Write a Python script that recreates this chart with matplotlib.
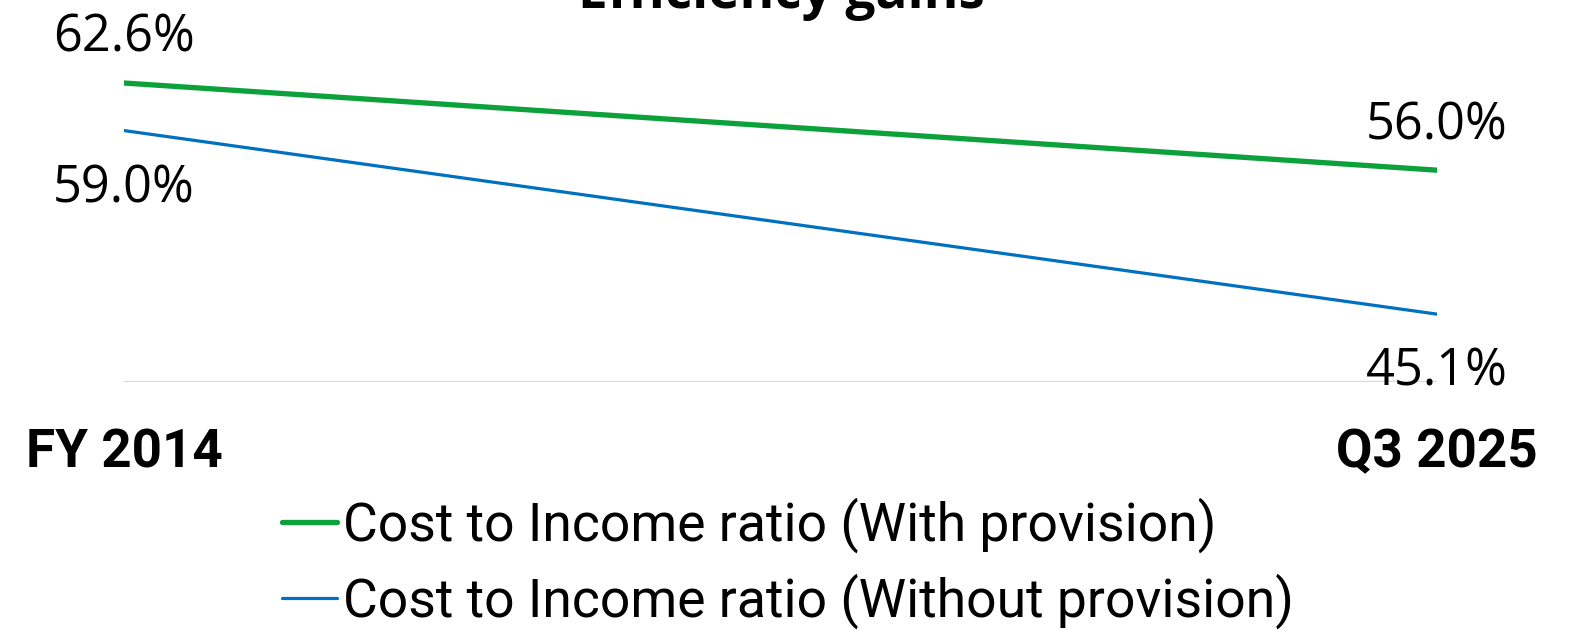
import matplotlib
matplotlib.use("Agg")
import matplotlib.pyplot as plt
import matplotlib.transforms as mtransforms

categories = ["FY 2014", "Q3 2025"]
with_provision = [62.6, 56.0]
without_provision = [59.0, 45.1]
series_names = ["Cost to Income ratio (With provision)", "Cost to Income ratio (Without provision)"]
title = "Efficiency gains"

plt.rcParams['font.family'] = ['Roboto', 'DejaVu Sans']

W, H = 1585, 630
PT = 72 / 100  # points per pixel
fig = plt.figure(figsize=(W / 100, H / 100), dpi=100)
left, right = 124 / W, 1437 / W
bottom = 1 - 381.5 / H
unit = ((1 - 83 / H) - bottom) / 22.6
ymin, ymax = 40, 66
ax = fig.add_axes([left, bottom, right - left, unit * (ymax - ymin)])
ax.set_xlim(0, 1)
ax.set_ylim(ymin, ymax)
for s in ax.spines.values():
    s.set_visible(False)
ax.set_xticks([])
ax.set_yticks([])
ax.axhline(40, color="#D9D9D9", lw=1.6, zorder=1)

x = [0, 1]
green = "#0DA13B"
blue = "#0070C0"
ax.plot(x, with_provision, color=green, lw=5.3 * PT, solid_capstyle='round', zorder=3, label=series_names[0])
ax.plot(x, without_provision, color=blue, lw=3.2 * PT, solid_capstyle='round', zorder=3, label=series_names[1])

def lab(xv, yv, dy):
    ax.annotate(f"{yv:.1f}%", (xv, yv), xytext=(0, dy), textcoords='offset pixels',
                ha='center', va='baseline', fontsize=50.5 * PT, family=['Open Sans', 'DejaVu Sans'], zorder=5)
lab(0, with_provision[0], 31)
lab(0, without_provision[0], -71.5)
lab(1, with_provision[1], 31)
lab(1, without_provision[1], -71)

trans = mtransforms.blended_transform_factory(ax.transData, fig.transFigure)
for xv, c in zip(x, categories):
    ax.text(xv, 1 - 467 / H, c, transform=trans, ha='center', va='baseline',
            fontsize=53 * PT, fontweight='bold')

fig.text(781 / W, 1 - 8 / H, title, ha='center', va='baseline', fontsize=53 * PT,
         fontweight='bold', family=['Open Sans', 'DejaVu Sans'])

fig.legend(loc='upper left', bbox_to_anchor=(282 / W, 1 - 497 / H), frameon=False,
           fontsize=53.5 * PT, handlelength=1.03, handletextpad=0.11, labelspacing=0.39,
           borderpad=0, borderaxespad=0)

fig.savefig("out.png", dpi=100)
